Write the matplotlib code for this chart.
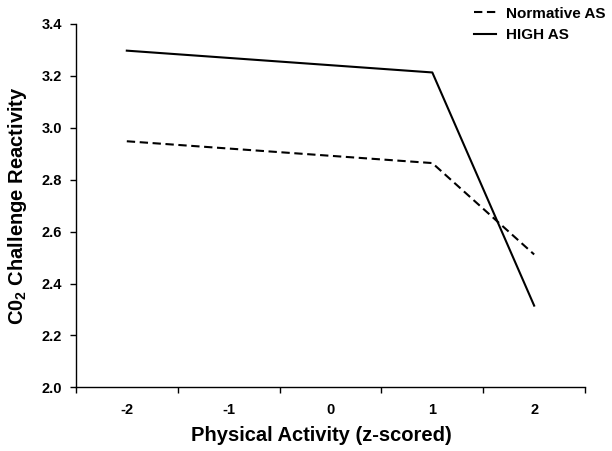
import numpy as np
import matplotlib.pyplot as plt

plt.rcParams['font.family'] = ['Liberation Sans', 'DejaVu Sans']
plt.rcParams['mathtext.fontset'] = 'custom'
plt.rcParams['mathtext.bf'] = 'Liberation Sans:bold'
plt.rcParams['mathtext.rm'] = 'Liberation Sans:bold'

# data
categories = ['-2', '-1', '0', '1', '2']
normative_as = [2.948, 2.920, 2.892, 2.864, 2.512]
high_as = [3.297, 3.269, 3.241, 3.213, 2.315]

x = np.arange(len(categories))

fig = plt.figure(figsize=(6.12, 4.51), dpi=100)
ax = fig.add_axes([0.124, 0.141, 0.832, 0.806])

ax.plot(x, normative_as, color='black', lw=1.5, linestyle=(0, (4, 2.2)), label='Normative AS')
ax.plot(x, high_as, color='black', lw=1.5, label='HIGH AS')

ax.set_xlim(-0.5, len(categories) - 0.5)
ax.set_ylim(2.0, 3.4)
ax.set_yticks(np.arange(2.0, 3.41, 0.2))
ax.set_yticklabels([f'{v:.1f}' for v in np.arange(2.0, 3.41, 0.2)], fontsize=10.5, fontweight='bold')

# labels at category centres, tick marks between categories
ax.set_xticks(x)
ax.set_xticklabels(categories, fontsize=10.5, fontweight='bold')
ax.tick_params(axis='x', which='major', length=0, pad=11)
ax.set_xticks(np.arange(-0.5, len(categories)), minor=True)
ax.tick_params(axis='x', which='minor', length=4, width=1)
ax.tick_params(axis='y', length=4, width=1, pad=6)

ax.spines['top'].set_visible(False)
ax.spines['right'].set_visible(False)
ax.spines['left'].set_linewidth(1)
ax.spines['bottom'].set_linewidth(1)

ax.set_xlabel('Physical Activity (z-scored)', fontsize=14.5, fontweight='bold', labelpad=8)
ax.xaxis.set_label_coords(0.482, -0.105)
ax.set_ylabel(r'C0$_\mathbf{2}$ Challenge Reactivity', fontsize=14.5, fontweight='bold', labelpad=9)

leg = ax.legend(loc='upper right', bbox_to_anchor=(1.068, 1.085), frameon=False,
                prop={'weight': 'bold', 'size': 11}, handlelength=1.4,
                handletextpad=0.7, labelspacing=0.5)

fig.savefig('out.png', dpi=100)
